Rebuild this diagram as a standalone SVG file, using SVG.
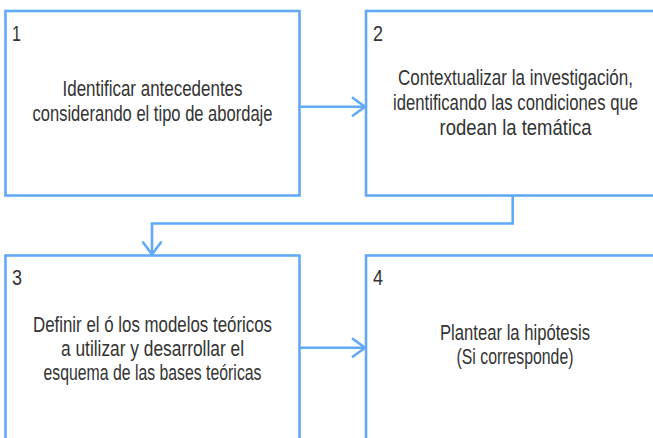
<svg xmlns="http://www.w3.org/2000/svg" width="653" height="438" viewBox="0 0 653 438">
<style>
.box{fill:#fff;stroke:#62a9f7;stroke-width:2.6}
.con{fill:none;stroke:#62a9f7;stroke-width:2.6}
.t{font-family:"Liberation Sans","DejaVu Sans",sans-serif;font-size:21.5px;fill:#333;text-anchor:middle}
.n{font-family:"Liberation Sans","DejaVu Sans",sans-serif;font-size:22px;fill:#333}
</style>
<defs>
<marker id="ah" markerUnits="userSpaceOnUse" markerWidth="30" markerHeight="30" refX="14" refY="10" orient="auto" viewBox="0 0 30 20">
<path d="M1,0.5 L14,10 L1,19.5" fill="none" stroke="#62a9f7" stroke-width="2.6"/>
</marker>
</defs>
<rect width="653" height="438" fill="#fff"/>
<g id="node1">
<rect class="box" x="5.5" y="11" width="294" height="184.5"/>
<text class="n" x="12" y="41" textLength="9" lengthAdjust="spacingAndGlyphs">1</text>
<text class="t" x="152.5" y="96" textLength="180" lengthAdjust="spacingAndGlyphs">Identificar antecedentes</text>
<text class="t" x="152.5" y="121" textLength="240" lengthAdjust="spacingAndGlyphs">considerando el tipo de abordaje</text>
</g>
<g id="node2">
<rect class="box" x="366" y="11" width="292" height="184.5"/>
<text class="n" x="373" y="41" textLength="10" lengthAdjust="spacingAndGlyphs">2</text>
<text class="t" x="515.5" y="85" textLength="235" lengthAdjust="spacingAndGlyphs">Contextualizar la investigación,</text>
<text class="t" x="515.5" y="110" textLength="245" lengthAdjust="spacingAndGlyphs">identificando las condiciones que</text>
<text class="t" x="515.5" y="135" textLength="152" lengthAdjust="spacingAndGlyphs">rodean la temática</text>
</g>
<g id="node3">
<rect class="box" x="5.5" y="255.5" width="294" height="200"/>
<text class="n" x="12" y="285" textLength="10" lengthAdjust="spacingAndGlyphs">3</text>
<text class="t" x="152.5" y="332" textLength="239" lengthAdjust="spacingAndGlyphs">Definir el ó los modelos teóricos</text>
<text class="t" x="152.5" y="356" textLength="183" lengthAdjust="spacingAndGlyphs">a utilizar y desarrollar el</text>
<text class="t" x="152.5" y="380" textLength="218" lengthAdjust="spacingAndGlyphs">esquema de las bases teóricas</text>
</g>
<g id="node4">
<rect class="box" x="366" y="255.5" width="292" height="200"/>
<text class="n" x="373" y="285" textLength="10" lengthAdjust="spacingAndGlyphs">4</text>
<text class="t" x="515" y="340" textLength="150" lengthAdjust="spacingAndGlyphs">Plantear la hipótesis</text>
<text class="t" x="515" y="364" textLength="117" lengthAdjust="spacingAndGlyphs">(Si corresponde)</text>
</g>
<g id="connectors">
<path class="con" d="M300,106.7 H365" marker-end="url(#ah)"/>
<path class="con" d="M512.7,196 V223.5 H152 V254.5" marker-end="url(#ah)"/>
<path class="con" d="M300,347.7 H365" marker-end="url(#ah)"/>
</g>
</svg>
